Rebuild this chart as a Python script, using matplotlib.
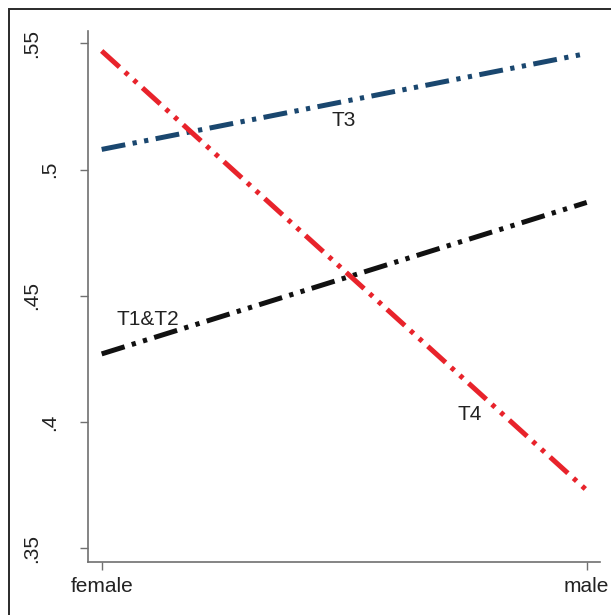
import matplotlib
matplotlib.use('Agg')
import matplotlib.pyplot as plt
import matplotlib.transforms as mtransforms
from matplotlib.patches import Rectangle

plt.rcParams['font.family'] = ['Liberation Sans', 'DejaVu Sans']

groups = ['female', 'male']
t12 = [0.427, 0.487]
t3 = [0.508, 0.546]
t4 = [0.547, 0.373]
ytick_vals = [0.35, 0.40, 0.45, 0.50, 0.55]
ytick_labels = ['.35', '.4', '.45', '.5', '.55']

x = list(range(len(groups)))
dashes = (4.8, 1.5, 0.85, 1.5, 0.85, 1.5)

fig = plt.figure(figsize=(6.11, 6.15), dpi=100)
ax = fig.add_axes([88 / 611, 53.3 / 615, 512 / 611, 530.7 / 615])

# outer graph-region frame (cut off at right and bottom in the original)
fig.patches.append(Rectangle((9 / 611, -0.1), 1.2, 1.1 - 9 / 615,
                             transform=fig.transFigure, fill=False,
                             edgecolor='#2a2a2a', linewidth=1.4))

ax.plot(x, t3, color='#1a476f', lw=3.6, dashes=dashes, zorder=3)
ax.plot(x, t12, color='#111111', lw=3.6, dashes=dashes, zorder=3)
ax.plot(x, t4, color='#e8232b', lw=3.6, dashes=dashes, zorder=4)

ax.text(0.474, 0.5194, 'T3', fontsize=15, color='#222222', va='center', ha='left')
ax.text(0.031, 0.4405, 'T1&T2', fontsize=15, color='#222222', va='center', ha='left')
ax.text(0.734, 0.403, 'T4', fontsize=15, color='#222222', va='center', ha='left')

ax.set_xlim(-0.0282, 1.0274)
ax.set_ylim(0.3447, 0.5549)

ax.set_xticks(x)
ax.set_xticklabels(groups, fontsize=15, color='#222222')
ax.set_yticks(ytick_vals)
ax.set_yticklabels(ytick_labels, fontsize=15, color='#222222',
                   rotation=90, ha='center', va='center')
ax.tick_params(axis='x', length=5.8, width=1, color='#707070', pad=5.5)
ax.tick_params(axis='y', length=5.8, width=1, color='#707070', pad=22)

# longer labels sit further left, as in the original
for lab in ax.get_yticklabels():
    if len(lab.get_text()) > 2:
        off = mtransforms.ScaledTranslation(-18 / 100, 0, fig.dpi_scale_trans)
        lab.set_transform(lab.get_transform() + off)

for side in ['top', 'right']:
    ax.spines[side].set_visible(False)
for side in ['left', 'bottom']:
    ax.spines[side].set_color('#707070')
    ax.spines[side].set_linewidth(1.2)

fig.savefig('out.png', dpi=100)
